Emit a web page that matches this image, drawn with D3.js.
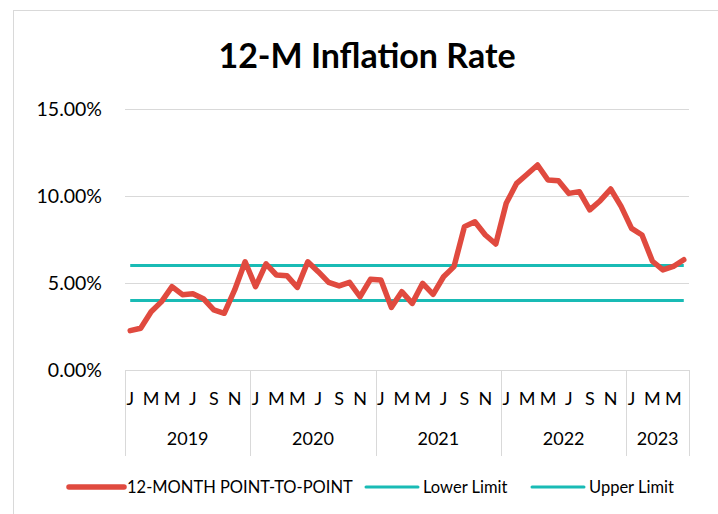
<!DOCTYPE html>
<html lang="en">
<head>
  <meta charset="UTF-8">
  <title>12-M Inflation Rate</title>
  <style>
    body { margin: 0; background: #fff; }
    text { font-family: Lato, "Open Sans", sans-serif; fill: #000; }
  </style>
</head>
<body>
  <div id="svg"></div>
  <script src="https://d3js.org/d3.v7.min.js"></script>
  <script>
    // data
    const years = ['2019', '2020', '2021', '2022', '2023']
    const monthsInYear = [12, 12, 12, 12, 6]
    const monthTicks = ['J', '', 'M', '', 'M', '', 'J', '', 'S', '', 'N', '']
    const rate = [
      2.26, 2.40, 3.35, 3.93, 4.79, 4.33, 4.38, 4.10, 3.45, 3.26, 4.60, 6.22, // 2019
      4.79, 6.10, 5.46, 5.42, 4.75, 6.22, 5.65, 5.04, 4.83, 5.04, 4.21, 5.21, // 2020
      5.17, 3.60, 4.50, 3.83, 4.98, 4.35, 5.36, 5.94, 8.24, 8.52, 7.76, 7.24, // 2021
      9.58, 10.73, 11.25, 11.78, 10.92, 10.88, 10.15, 10.25, 9.20, 9.73, 10.40, 9.40, // 2022
      8.14, 7.76, 6.25, 5.75, 5.95, 6.34 // 2023
    ].map(d => d / 100)
    const lowerLimit = 0.04
    const upperLimit = 0.06
    const yTicks = [0, 0.05, 0.10, 0.15]

    const width = 718
    const height = 514
    const svg = d3.select('#svg').append('svg').attr('width', width).attr('height', height)

    // chart frame
    svg.append('rect').attr('x', 13.5).attr('y', 10.5).attr('width', 720).attr('height', 520)
      .attr('fill', '#fff').attr('stroke', '#d9d9d9')

    const plot = { left: 125, right: 689, top: 109, bottom: 370 }

    // categories: one per month
    const months = []
    years.forEach((y, yi) => {
      for (let m = 0; m < monthsInYear[yi]; m++) months.push({ year: y, yi, m })
    })
    const idx = months.map((d, i) => i)

    const xScale = d3.scaleBand().domain(idx).range([plot.left, plot.right])
    const xc = i => xScale(i) + xScale.bandwidth() / 2
    const yScale = d3.scaleLinear().domain([0, 0.15]).range([plot.bottom, plot.top])

    // gridlines
    svg.append('g').selectAll('line').data(yTicks).enter().append('line')
      .attr('x1', plot.left).attr('x2', plot.right)
      .attr('y1', d => Math.round(yScale(d)) + 0.5).attr('y2', d => Math.round(yScale(d)) + 0.5)
      .attr('stroke', '#d9d9d9').attr('stroke-width', 1)

    // y axis labels
    const yAxis = d3.axisLeft(yScale).tickValues(yTicks).tickFormat(d3.format('.2%')).tickSize(0).tickPadding(0)
    const gY = svg.append('g').attr('transform', `translate(102,0)`).call(yAxis)
    gY.select('.domain').remove()
    gY.selectAll('text').attr('font-size', '19.5px').attr('fill', '#000').attr('dy', '0.35em')

    // year separators
    let acc = 0
    const bounds = [0]
    monthsInYear.forEach(n => { acc += n; bounds.push(acc) })
    const boundX = bounds.map(b => b < months.length ? xScale(b) : plot.right)
    svg.append('g').selectAll('line').data(boundX).enter().append('line')
      .attr('x1', d => Math.round(d) + 0.5).attr('x2', d => Math.round(d) + 0.5)
      .attr('y1', plot.bottom).attr('y2', 456)
      .attr('stroke', '#d9d9d9').attr('stroke-width', 1)

    // month letters
    const xAxis = d3.axisBottom(xScale).tickSize(0).tickPadding(0)
      .tickFormat(i => monthTicks[months[i].m])
    const gX = svg.append('g').attr('transform', `translate(0,${plot.bottom})`).call(xAxis)
    gX.select('.domain').remove()
    gX.selectAll('text').attr('font-size', '18px').attr('fill', '#000').attr('dy', 0).attr('y', 35)

    // year labels
    svg.append('g').selectAll('text').data(years).enter().append('text')
      .attr('x', (d, i) => (boundX[i] + boundX[i + 1]) / 2)
      .attr('y', 445)
      .attr('text-anchor', 'middle')
      .attr('font-size', '18px')
      .text(d => d)

    // lines
    const line = d3.line().x((d, i) => xc(i)).y(d => yScale(d))
    svg.append('path').datum(idx.map(() => upperLimit)).attr('d', line)
      .attr('fill', 'none').attr('stroke', '#19bbb5').attr('stroke-width', 3)
    svg.append('path').datum(idx.map(() => lowerLimit)).attr('d', line)
      .attr('fill', 'none').attr('stroke', '#19bbb5').attr('stroke-width', 3)
    svg.append('path').datum(rate).attr('d', line)
      .attr('fill', 'none').attr('stroke', '#e04a3f').attr('stroke-width', 5.5)
      .attr('stroke-linejoin', 'round').attr('stroke-linecap', 'round')

    // title
    svg.append('text').attr('x', 367).attr('y', 68).attr('text-anchor', 'middle')
      .attr('font-size', '34px').attr('font-weight', 'bold').text('12-M Inflation Rate')

    // legend
    const legend = [
      { name: '12-MONTH POINT-TO-POINT', color: '#e04a3f', w: 5.5, x: 69 },
      { name: 'Lower Limit', color: '#19bbb5', w: 3, x: 366 },
      { name: 'Upper Limit', color: '#19bbb5', w: 3, x: 532 }
    ]
    const gL = svg.append('g').selectAll('g').data(legend).enter().append('g')
      .attr('transform', d => `translate(${d.x},487)`)
    gL.append('line').attr('x1', 0).attr('x2', d => d.w > 4 ? 55 : 52).attr('y1', 0).attr('y2', 0)
      .attr('stroke', d => d.color).attr('stroke-width', d => d.w).attr('stroke-linecap', 'round')
    gL.append('text').attr('x', d => d.w > 4 ? 58 : 57).attr('y', 0).attr('dy', '0.35em')
      .attr('font-size', '16.5px').text(d => d.name)
  </script>
</body>
</html>
